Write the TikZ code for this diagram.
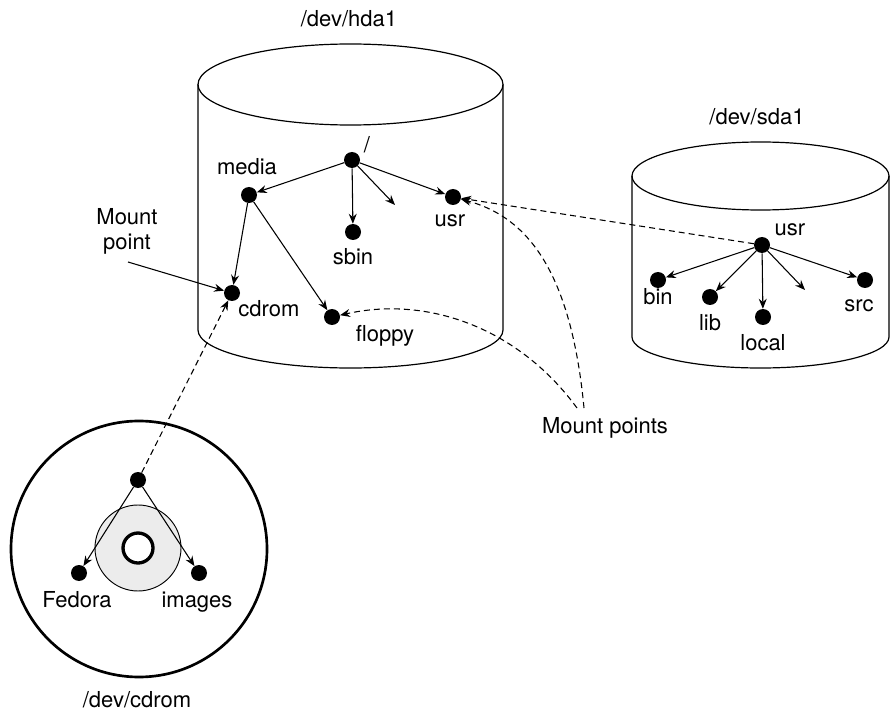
\documentclass[tikz,border=0pt]{standalone}
\usepackage{fontspec}
\setmainfont{TeX Gyre Heros}
\usetikzlibrary{arrows.meta}

\begin{document}
\begin{tikzpicture}[x=0.75pt,y=-0.75pt,
	dot/.style={circle,fill=black,inner sep=0pt,minimum size=12pt},
	lbl/.style={anchor=base,inner sep=0pt,font=\fontsize{16.5}{19}\selectfont},
	arr/.style={-{Stealth[length=7.5pt,width=6pt,inset=2.5pt]},line width=0.8pt},
	mnt/.style={arr,dash pattern=on 4.5pt off 3pt},
	disk/.style={line width=0.9pt}]
	
	\useasboundingbox (0,0) rectangle (890,713);
	
	% the two disks
	\draw[disk] (350.5,84.5) ellipse [x radius=152.5,y radius=40.5];
	\draw[disk] (198,84.5) -- (198,330) arc[start angle=180,end angle=0,x radius=152.5,y radius=38] -- (503,84.5);
	\draw[disk] (760.5,176) ellipse [x radius=128.5,y radius=34];
	\draw[disk] (632,176) -- (632,337) arc[start angle=180,end angle=0,x radius=128.5,y radius=31] -- (889,176);
	
	% the cd
	\draw[line width=2pt] (139,549) circle [radius=128];
	\draw[line width=0.7pt,fill=gray!15] (138,548) circle [radius=43];
	\draw[line width=2.5pt,fill=white] (138,548) circle [radius=15];
	
	% /dev/hda1
	\node[dot] (hroot) at (352,160) {};
	\node[dot] (hmedia) at (249,195) {};
	\node[dot] (husr) at (453,197) {};
	\node[dot] (hsbin) at (353,232) {};
	\node[dot] (hcdrom) at (232,293) {};
	\node[dot] (hfloppy) at (332,317) {};
	\coordinate (hmore) at (395,205);
	\foreach \t in {hmedia,hsbin,husr,hmore}
		\draw[arr] (hroot) -- (\t);
	\foreach \t in {hcdrom,hfloppy}
		\draw[arr] (hmedia) -- (\t);
	
	% /dev/sda1
	\node[dot] (susr) at (762,245) {};
	\node[dot] (sbin) at (658,280) {};
	\node[dot] (slib) at (710,297) {};
	\node[dot] (slocal) at (763,317) {};
	\node[dot] (ssrc) at (865,280) {};
	\coordinate (smore) at (805,290);
	\foreach \t in {sbin,slib,slocal,smore,ssrc}
		\draw[arr] (susr) -- (\t);
	
	% /dev/cdrom
	\node[dot] (croot) at (138,480) {};
	\node[dot] (cfedora) at (79,573) {};
	\node[dot] (cimages) at (199,573) {};
	\foreach \t in {cfedora,cimages}
		\draw[arr] (croot) -- (\t);
	
	% labels
	\node[lbl] (lhda) at (349,27) {/dev/hda1};
	\node[lbl] (lsda) at (757,125) {/dev/sda1};
	\node[lbl] (lcd) at (137,707) {/dev/cdrom};
	\node[lbl] (lroot) at (367,153) {/};
	\foreach \n/\x/\y/\t in {lmedia/247/175/media,lhusr/450/227/usr,lsbin/353/265/sbin,
		lcdrom/269/317/cdrom,lfloppy/385/342/floppy,lsusr/790/236/usr,lbin/658/305/bin,
		llib/710/330/lib,llocal/763/350/local,lsrc/859/312/src,lfedora/77/607/Fedora,
		limages/197/607/images}
		\node[lbl] (\n) at (\x,\y) {\t};
	\node[lbl,align=center] (lmount) at (127,250) {Mount\\point};
	\node[lbl] (lpoints) at (605,433) {Mount points};
	
	% mount links
	\coordinate (mpt) at (128,262);
	\coordinate (mp1) at (577,408);
	\coordinate (mp2) at (584,408);
	\draw[arr] (mpt) -- (hcdrom);
	\draw[mnt] (croot) -- (hcdrom);
	\draw[mnt] (susr) -- (husr);
	\draw[mnt] (mp1) .. controls (520,330) and (430,295) .. (hfloppy);
	\draw[mnt] (mp2) .. controls (570,260) and (520,215) .. (husr);
	
\end{tikzpicture}
\end{document}
